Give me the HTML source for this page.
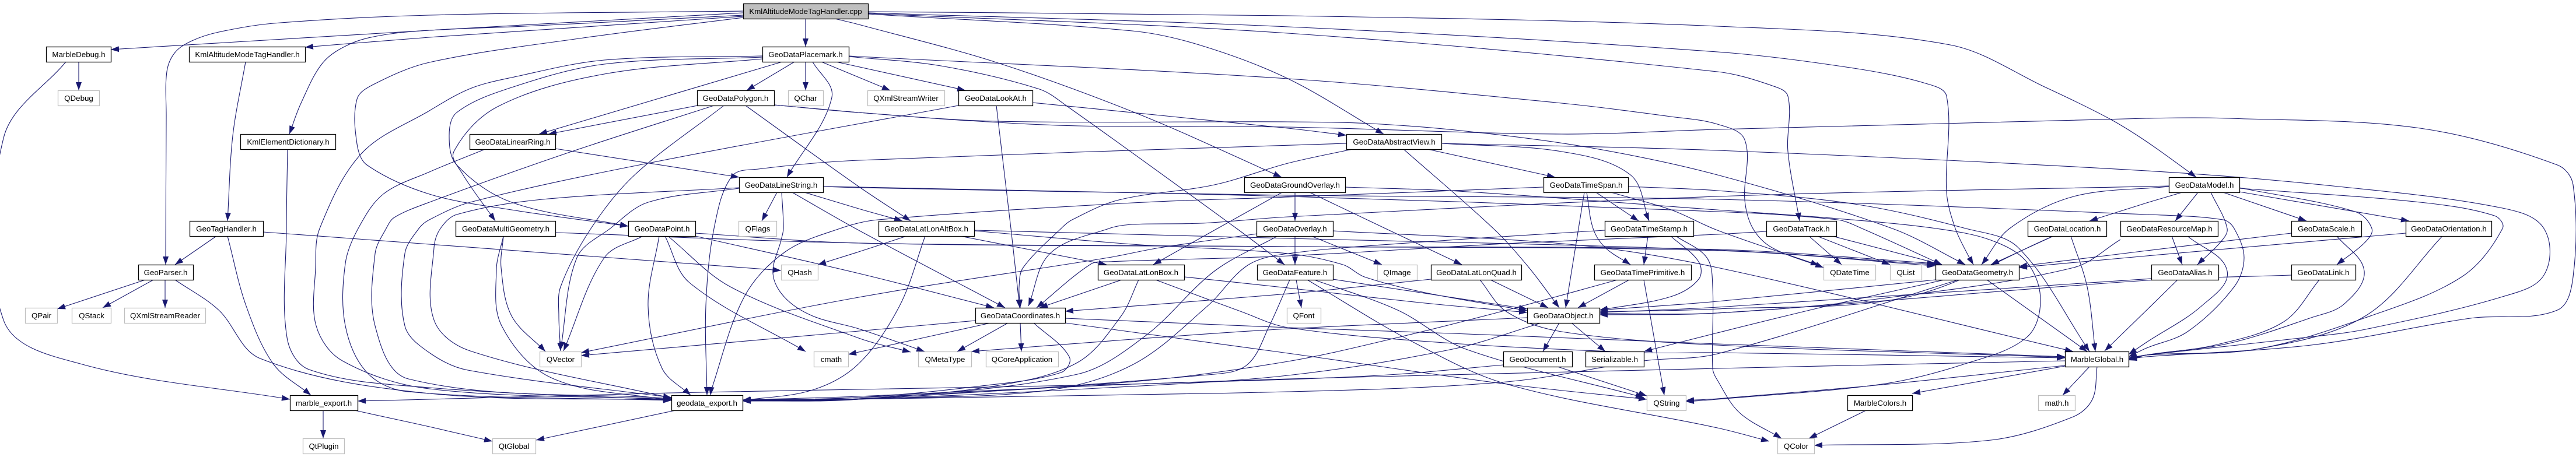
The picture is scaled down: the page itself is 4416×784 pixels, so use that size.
<!DOCTYPE html>
<html><head><meta charset="utf-8"><title>KmlAltitudeModeTagHandler.cpp include graph</title>
<style>
html,body{margin:0;padding:0;background:#fff;width:4416px;height:784px;overflow:hidden}
svg{display:block}
#e path{fill:none;stroke:#191970;stroke-width:1.1;marker-end:url(#a)}
rect{fill:#fff;stroke:#000;stroke-width:1.3}
.g rect{stroke:#bfbfbf}
.r rect{fill:#bfbfbf}
text{font-family:"Liberation Sans",sans-serif;font-size:13.33px;text-anchor:middle;fill:#000}
</style></head><body>
<svg width="4416" height="784" viewBox="0 0 4416 784" xmlns="http://www.w3.org/2000/svg">
<defs><marker id="a" markerUnits="userSpaceOnUse" markerWidth="14" markerHeight="10" refX="14" refY="5" orient="auto"><path d="M0 0L14 5L0 10z" fill="#191970"/></marker></defs>
<g id="e">
<path d="M1274 19L736 26L469 40L375 55L329 70L300 90L286 123L285 200L284 454"/>
<path d="M1274 22L736 52L190 85"/>
<path d="M1274 26L900 45L736 52L657 60L601 75L554 107L516 177L496 230"/>
<path d="M1274 28L736 64L523 81"/>
<path d="M1274 30L1000 65L736 107L640 145L612 170L612 247L629 283L736 333L877 360L1077 388"/>
<path d="M1381 32L1381 80"/>
<path d="M1431 32L1472 42L1711 108L1955 197L2197 304"/>
<path d="M1488 20L2208 27L2944 45L3343 77L3507 150L3615 203L3680 243L3765 304"/>
<path d="M1488 22L2208 46L2944 89L3178 117L3301 143L3337 165L3337 330L3352 392L3376 442L3383 454"/>
<path d="M1488 23L2208 57L2944 123L3038 147L3065 165L3065 260L3085 379"/>
<path d="M1488 24L1941 53L2059 78L2208 135L2372 230"/>
<path d="M1307 96L1036 103L877 133L806 152L736 190L620 263L548 392L541 459L542 559L587 619L736 667L1151 685"/>
<path d="M1307 98L1036 110L877 150L783 193L770 233L783 283L877 347L1077 388"/>
<path d="M1307 101L1036 127L853 183L778 260L792 297L849 379"/>
<path d="M1341 106L924 230"/>
<path d="M1362 106L1280 155"/>
<path d="M1381 106L1381 155"/>
<path d="M1393 106L1426 167L1349 304"/>
<path d="M1408 106L1526 155"/>
<path d="M1433 106L1655 155"/>
<path d="M1455 96L1472 97L2208 135L2677 177L2864 200L2944 213L2991 240L2991 343L3005 392L3038 425L3126 459"/>
<path d="M1455 97L1613 113L1782 153L1829 182L2120 392L2202 454"/>
<path d="M1196 181L940 230"/>
<path d="M1224 181L971 263L736 347L676 373L662 392L643 435L643 559L700 650L1151 684"/>
<path d="M1241 181L1088 300L1013 392L961 492L958 542L961 602"/>
<path d="M1278 181L1472 320L1561 379"/>
<path d="M1327 180L1472 193L1660 207L1850 216L2208 218L2677 230L2944 222L3680 203L3821 203L4149 220L4384 283L4411 317L4411 475L4384 532L4243 545L4196 552L3962 592L3680 612L3649 616"/>
<path d="M1327 180L1472 193L1707 208L2208 209L2349 212L2513 225L2724 253L2944 300L3244 392L3369 454"/>
<path d="M834 255L736 295L657 333L614 392L592 452L592 559L630 640L700 672L1151 687"/>
<path d="M952 255L1267 304"/>
<path d="M493 255L491 392L492 579L530 634L736 665L1151 686"/>
<path d="M1643 181L1111 280L806 347L736 377L718 392L694 435L694 559L736 605L802 635L1151 682"/>
<path d="M1770 176L2208 220L2308 232"/>
<path d="M1708 181L1733 392L1748 528"/>
<path d="M2308 246L1472 275L1300 290L1255 302L1224 392L1210 525L1212 678"/>
<path d="M2323 255L2208 280L2082 317L1918 343L1838 377L1819 392L1754 459L1747 492L1749 528"/>
<path d="M2405 255L2560 392L2621 459L2673 528"/>
<path d="M2443 255L2666 304"/>
<path d="M2471 246L2677 260L2795 300L2827 379"/>
<path d="M2471 246L2944 258L3680 293L4009 320L4290 357L4361 392L4361 472L4290 509L4055 565L3952 579L3680 609L3649 614"/>
<path d="M2220 330L2220 379"/>
<path d="M2245 330L2375 392L2506 454"/>
<path d="M2198 330L2087 392L1977 454"/>
<path d="M2306 321L2500 328L2943 360L3150 375L3319 392L3413 412L3474 449L3498 515L3474 579L3366 625L3226 659L2944 685L2890 689"/>
<path d="M1332 330L1306 379"/>
<path d="M1340 330L1343 392L1339 412L1325 469L1345 510L1393 542L1472 564L1585 603"/>
<path d="M1358 330L1472 395L1723 528"/>
<path d="M1379 330L1472 358L1547 379"/>
<path d="M1411 320L1472 321L2208 337L2944 363L3150 377L3192 392L3329 454"/>
<path d="M1411 320L1472 322L2208 335L2944 342L3680 368L3811 377L3830 392L3847 442L3830 492L3750 569L3680 597L3649 612"/>
<path d="M1267 323L1111 347L1046 392L989 442L961 600"/>
<path d="M1267 322L930 342L783 368L755 392L744 425L744 549L806 602L1151 683"/>
<path d="M2645 321L2208 338L1941 348L1505 377L1440 392L1346 432L1276 509L1219 670L1218 678"/>
<path d="M2791 320L2944 327L3179 350L3370 392L3460 425L3582 603"/>
<path d="M3718 319L2944 337L2208 372L2059 383L1941 385L1901 392L1800 435L1763 525"/>
<path d="M1554 405L1472 432L1402 454"/>
<path d="M1586 405L1542 525L1472 624L1393 669L1273 687"/>
<path d="M1646 405L1897 454"/>
<path d="M1670 395L2208 409L2944 429L3317 454"/>
<path d="M1670 396L1941 419L2208 435L2302 454L2339 475L2443 502L2618 533"/>
<path d="M1923 480L1782 528"/>
<path d="M1952 480L1922 542L1847 622L1707 662L1472 684L1273 687"/>
<path d="M2030 475L2208 494L2443 520L2618 536"/>
<path d="M1981 480L2129 535L2208 562L2490 589L2818 605L2944 605L3540 614"/>
<path d="M1728 554L1641 603"/>
<path d="M1749 554L1751 603"/>
<path d="M1672 550L1472 568L996 610"/>
<path d="M1698 554L1472 604L1454 608"/>
<path d="M1772 554L1833 612L1819 639L1683 662L1472 682L1273 686"/>
<path d="M1826 546L2208 562L2490 572L2944 590L3540 612"/>
<path d="M1826 554L2208 606L2583 659L2823 685"/>
<path d="M2773 480L2583 532L2396 579L2208 620L1941 655L1472 682L1273 687"/>
<path d="M2642 554L2490 599L2208 644L1900 665L1472 685L1273 688"/>
<path d="M2577 626L2396 642L2208 651L1941 659L1472 680L1273 686"/>
<path d="M3540 619L2944 632L2208 650L1941 659L1472 668L1151 674L736 685L613 688"/>
<path d="M3357 480L2944 607L2818 619L2583 655L2208 672L1273 688"/>
<path d="M2670 629L2823 679"/>
<path d="M2673 554L2645 603"/>
<path d="M2694 554L2752 603"/>
<path d="M2618 545L2208 564L1941 582L1665 603"/>
<path d="M3333 480L3132 525L2944 571L2818 603"/>
<path d="M3318 480L2944 517L2742 532"/>
<path d="M3406 480L3578 603"/>
<path d="M2285 396L2700 420L2944 459L3554 603"/>
<path d="M2736 330L2809 379"/>
<path d="M2716 330L2706 392L2684 528"/>
<path d="M2720 330L2731 392L2752 425L2795 454"/>
<path d="M2762 330L2865 360L2944 395L3118 455"/>
<path d="M2825 405L2818 454"/>
<path d="M2864 405L2912 449L2912 479L2864 509L2742 532"/>
<path d="M2873 405L2926 442L2936 492L2936 632L2944 652L2982 708L3054 752"/>
<path d="M2751 395L2440 415L2208 435L2139 455L2070 525L1943 625L1793 670L1472 684L1273 687"/>
<path d="M3101 405L3157 454"/>
<path d="M3115 405L3240 454"/>
<path d="M3141 405L3329 454"/>
<path d="M3028 397L2944 402L2600 417L2208 439L1900 449L1870 453L1777 528"/>
<path d="M952 399L1472 417L2208 423L2944 430L3318 456"/>
<path d="M1192 400L1472 417L2208 423L2944 428L3318 452"/>
<path d="M1102 405L1036 442L966 602"/>
<path d="M1130 405L1111 525L1135 632L1184 678"/>
<path d="M1140 405L1182 485L1381 603"/>
<path d="M1145 405L1252 492L1472 580L1561 604"/>
<path d="M1192 405L1472 469L1704 528"/>
<path d="M863 405L859 459L877 542L935 603"/>
<path d="M863 405L851 462L860 559L947 649L1151 687"/>
<path d="M371 405L300 454"/>
<path d="M390 405L422 525L469 625L533 678"/>
<path d="M451 398L736 419L1339 464"/>
<path d="M135 106L135 155"/>
<path d="M113 106L6 237L6 549L141 625L497 685"/>
<path d="M421 106L399 233L390 379"/>
<path d="M249 480L98 530"/>
<path d="M263 480L176 528"/>
<path d="M283 480L283 528"/>
<path d="M300 480L375 532L446 615L736 675L1151 686"/>
<path d="M554 704L554 752"/>
<path d="M608 704L736 732L844 757"/>
<path d="M1158 704L919 755"/>
<path d="M3540 627L3226 660L2944 684L2890 687"/>
<path d="M3540 628L3278 675"/>
<path d="M3582 629L3536 678"/>
<path d="M3595 629L3587 685L3554 715L3413 755L3110 764"/>
<path d="M3199 704L3101 752"/>
<path d="M2241 480L2419 585L2583 659L2944 734L3033 757"/>
<path d="M2253 480L2396 532L2513 599L2818 682"/>
<path d="M2222 480L2231 528"/>
<path d="M2285 479L2618 530"/>
<path d="M2211 480L2176 559L2139 625L2082 642L1472 685L1273 688"/>
<path d="M2220 405L2220 454"/>
<path d="M2248 405L2369 454"/>
<path d="M2190 405L2082 465L1965 575L1847 642L1472 685L1273 688"/>
<path d="M2155 401L1988 425L1900 442L1472 510L996 605"/>
<path d="M2555 480L2654 528"/>
<path d="M2453 479L2208 504L1826 534"/>
<path d="M2537 480L2583 535L2677 569L2944 592L3540 613"/>
<path d="M2793 480L2705 528"/>
<path d="M2818 480L2853 678"/>
<path d="M3928 472L3680 481L2944 537L2742 540"/>
<path d="M3688 478L2944 527L2742 536"/>
<path d="M3520 405L3272 509L2944 530L2742 535"/>
<path d="M3635 411L3555 459L3226 512L2944 537L2742 538"/>
<path d="M3928 400L3680 430L3461 457"/>
<path d="M4124 400L3680 439L3461 459"/>
<path d="M3718 320L3555 337L3445 392L3397 454"/>
<path d="M3520 405L3413 454"/>
<path d="M3550 405L3578 492L3592 603"/>
<path d="M3741 330L3680 348L3582 379"/>
<path d="M3768 330L3729 379"/>
<path d="M3790 330L3818 392L3807 415L3767 454"/>
<path d="M3811 330L3954 379"/>
<path d="M3839 329L4130 379"/>
<path d="M3839 322L4037 363L4066 392L4055 415L4006 454"/>
<path d="M3839 323L4149 347L4276 370L4290 392L4220 475L4055 545L3868 599L3680 609L3649 615"/>
<path d="M3723 405L3741 454"/>
<path d="M3750 405L3818 465L3774 525L3680 587L3649 608"/>
<path d="M4006 405L4053 465L4018 522L3962 545L3821 589L3680 609L3649 616"/>
<path d="M4187 405L4055 542L3868 599L3680 609L3649 617"/>
<path d="M3976 480L3915 552L3797 592L3680 609L3649 618"/>
<path d="M3733 480L3680 532L3608 602"/>
</g>
<g id="n">
<g class="r"><rect x="1274.5" y="6.5" width="214" height="26"/><text x="1381" y="24">KmlAltitudeModeTagHandler.cpp</text></g>
<g><rect x="79.5" y="80.5" width="111" height="26"/><text x="135" y="98">MarbleDebug.h</text></g>
<g><rect x="324.5" y="80.5" width="199" height="26"/><text x="424" y="98">KmlAltitudeModeTagHandler.h</text></g>
<g><rect x="1307.5" y="80.5" width="148" height="26"/><text x="1381" y="98">GeoDataPlacemark.h</text></g>
<g class="g"><rect x="99.5" y="155.5" width="71" height="26"/><text x="135" y="173">QDebug</text></g>
<g><rect x="1195.5" y="155.5" width="132" height="26"/><text x="1261" y="173">GeoDataPolygon.h</text></g>
<g class="g"><rect x="1351.5" y="155.5" width="60" height="26"/><text x="1381" y="173">QChar</text></g>
<g class="g"><rect x="1487.5" y="155.5" width="132" height="26"/><text x="1553" y="173">QXmlStreamWriter</text></g>
<g><rect x="1643.5" y="155.5" width="127" height="26"/><text x="1707" y="173">GeoDataLookAt.h</text></g>
<g><rect x="412.5" y="230.5" width="163" height="26"/><text x="494" y="248">KmlElementDictionary.h</text></g>
<g><rect x="805.5" y="230.5" width="147" height="26"/><text x="879" y="248">GeoDataLinearRing.h</text></g>
<g><rect x="2308.5" y="230.5" width="163" height="26"/><text x="2390" y="248">GeoDataAbstractView.h</text></g>
<g><rect x="1267.5" y="304.5" width="144" height="26"/><text x="1339" y="322">GeoDataLineString.h</text></g>
<g><rect x="2133.5" y="304.5" width="173" height="26"/><text x="2220" y="322">GeoDataGroundOverlay.h</text></g>
<g><rect x="2646.5" y="304.5" width="145" height="26"/><text x="2719" y="322">GeoDataTimeSpan.h</text></g>
<g><rect x="3718.5" y="304.5" width="121" height="26"/><text x="3779" y="322">GeoDataModel.h</text></g>
<g><rect x="325.5" y="379.5" width="126" height="26"/><text x="388" y="397">GeoTagHandler.h</text></g>
<g><rect x="781.5" y="379.5" width="171" height="26"/><text x="867" y="397">GeoDataMultiGeometry.h</text></g>
<g><rect x="1077.5" y="379.5" width="115" height="26"/><text x="1135" y="397">GeoDataPoint.h</text></g>
<g class="g"><rect x="1266.5" y="379.5" width="65" height="26"/><text x="1299" y="397">QFlags</text></g>
<g><rect x="1506.5" y="379.5" width="164" height="26"/><text x="1588" y="397">GeoDataLatLonAltBox.h</text></g>
<g><rect x="2154.5" y="379.5" width="131" height="26"/><text x="2220" y="397">GeoDataOverlay.h</text></g>
<g><rect x="2751.5" y="379.5" width="152" height="26"/><text x="2827" y="397">GeoDataTimeStamp.h</text></g>
<g><rect x="3028.5" y="379.5" width="120" height="26"/><text x="3088" y="397">GeoDataTrack.h</text></g>
<g><rect x="3476.5" y="379.5" width="135" height="26"/><text x="3544" y="397">GeoDataLocation.h</text></g>
<g><rect x="3635.5" y="379.5" width="167" height="26"/><text x="3719" y="397">GeoDataResourceMap.h</text></g>
<g><rect x="3928.5" y="379.5" width="120" height="26"/><text x="3988" y="397">GeoDataScale.h</text></g>
<g><rect x="4124.5" y="379.5" width="147" height="26"/><text x="4198" y="397">GeoDataOrientation.h</text></g>
<g><rect x="237.5" y="454.5" width="94" height="26"/><text x="284" y="472">GeoParser.h</text></g>
<g class="g"><rect x="1339.5" y="454.5" width="63" height="26"/><text x="1371" y="472">QHash</text></g>
<g><rect x="1882.5" y="454.5" width="148" height="26"/><text x="1956" y="472">GeoDataLatLonBox.h</text></g>
<g><rect x="2155.5" y="454.5" width="130" height="26"/><text x="2220" y="472">GeoDataFeature.h</text></g>
<g class="g"><rect x="2361.5" y="454.5" width="68" height="26"/><text x="2395" y="472">QImage</text></g>
<g><rect x="2453.5" y="454.5" width="155" height="26"/><text x="2531" y="472">GeoDataLatLonQuad.h</text></g>
<g><rect x="2733.5" y="454.5" width="166" height="26"/><text x="2816" y="472">GeoDataTimePrimitive.h</text></g>
<g class="g"><rect x="3126.5" y="454.5" width="89" height="26"/><text x="3171" y="472">QDateTime</text></g>
<g class="g"><rect x="3240.5" y="454.5" width="54" height="26"/><text x="3267" y="472">QList</text></g>
<g><rect x="3318.5" y="454.5" width="143" height="26"/><text x="3390" y="472">GeoDataGeometry.h</text></g>
<g><rect x="3688.5" y="454.5" width="115" height="26"/><text x="3746" y="472">GeoDataAlias.h</text></g>
<g><rect x="3928.5" y="454.5" width="110" height="26"/><text x="3983" y="472">GeoDataLink.h</text></g>
<g class="g"><rect x="43.5" y="528.5" width="55" height="26"/><text x="71" y="546">QPair</text></g>
<g class="g"><rect x="123.5" y="528.5" width="67" height="26"/><text x="157" y="546">QStack</text></g>
<g class="g"><rect x="213.5" y="528.5" width="139" height="26"/><text x="283" y="546">QXmlStreamReader</text></g>
<g><rect x="1672.5" y="528.5" width="154" height="26"/><text x="1749" y="546">GeoDataCoordinates.h</text></g>
<g class="g"><rect x="2206.5" y="528.5" width="58" height="26"/><text x="2235" y="546">QFont</text></g>
<g><rect x="2618.5" y="528.5" width="124" height="26"/><text x="2680" y="546">GeoDataObject.h</text></g>
<g class="g"><rect x="925.5" y="603.5" width="71" height="26"/><text x="961" y="621">QVector</text></g>
<g class="g"><rect x="1395.5" y="603.5" width="59" height="26"/><text x="1425" y="621">cmath</text></g>
<g class="g"><rect x="1574.5" y="603.5" width="91" height="26"/><text x="1620" y="621">QMetaType</text></g>
<g class="g"><rect x="1690.5" y="603.5" width="124" height="26"/><text x="1752" y="621">QCoreApplication</text></g>
<g><rect x="2577.5" y="603.5" width="118" height="26"/><text x="2636" y="621">GeoDocument.h</text></g>
<g><rect x="2718.5" y="603.5" width="100" height="26"/><text x="2768" y="621">Serializable.h</text></g>
<g><rect x="3540.5" y="603.5" width="109" height="26"/><text x="3595" y="621">MarbleGlobal.h</text></g>
<g><rect x="497.5" y="678.5" width="116" height="26"/><text x="555" y="696">marble_export.h</text></g>
<g><rect x="1151.5" y="678.5" width="122" height="26"/><text x="1212" y="696">geodata_export.h</text></g>
<g class="g"><rect x="2823.5" y="678.5" width="67" height="26"/><text x="2857" y="696">QString</text></g>
<g><rect x="3167.5" y="678.5" width="111" height="26"/><text x="3223" y="696">MarbleColors.h</text></g>
<g class="g"><rect x="3494.5" y="678.5" width="63" height="26"/><text x="3526" y="696">math.h</text></g>
<g class="g"><rect x="519.5" y="752.5" width="71" height="26"/><text x="555" y="770">QtPlugin</text></g>
<g class="g"><rect x="844.5" y="752.5" width="74" height="26"/><text x="881" y="770">QtGlobal</text></g>
<g class="g"><rect x="3047.5" y="752.5" width="63" height="26"/><text x="3079" y="770">QColor</text></g>
</g>
</svg>
<script>
document.querySelectorAll('#e path').forEach(function(p){
  var v=p.getAttribute('d').match(/-?\d+(\.\d+)?/g).map(Number),P=[];
  for(var i=0;i<v.length;i+=2)P.push([v[i],v[i+1]]);
  if(P.length<3)return;
  var d='M'+P[0][0]+' '+P[0][1];
  function tan(i){
    var a=P[Math.max(i-1,0)],b=P[Math.min(i+1,P.length-1)],x=b[0]-a[0],y=b[1]-a[1],l=Math.hypot(x,y)||1;
    return [x/l,y/l];
  }
  for(var i=0;i<P.length-1;i++){
    var A=P[i],B=P[i+1],s=Math.hypot(B[0]-A[0],B[1]-A[1])/3,t0=tan(i),t1=tan(i+1);
    var c1=[A[0]+t0[0]*s,A[1]+t0[1]*s],c2=[B[0]-t1[0]*s,B[1]-t1[1]*s];
    d+='C'+c1[0].toFixed(1)+' '+c1[1].toFixed(1)+' '+c2[0].toFixed(1)+' '+c2[1].toFixed(1)+' '+B[0]+' '+B[1];
  }
  p.setAttribute('d',d);
});
</script>
</body></html>
